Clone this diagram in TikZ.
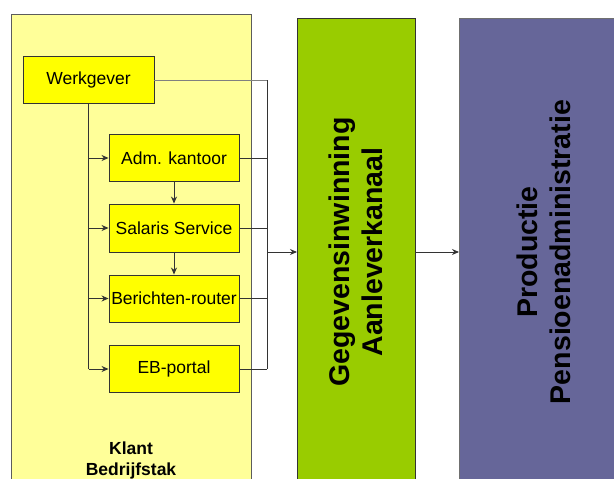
\documentclass[tikz,border=0pt]{standalone}
\usepackage{fontspec}
\setmainfont{Liberation Sans}
\usetikzlibrary{arrows.meta}
\definecolor{bgyellow}{HTML}{FFFF99}
\definecolor{boxyellow}{HTML}{FFFF00}
\definecolor{kgreen}{HTML}{99CC00}
\definecolor{kpurple}{HTML}{666699}
\definecolor{edge}{HTML}{333333}
\tikzset{
  ybox/.style={draw=edge, line width=0.9pt, fill=boxyellow, minimum width=130pt, minimum height=47pt, inner sep=0pt, font=\fontsize{17.5}{20}\selectfont},
  conn/.style={draw=edge, line width=0.9pt},
  arr/.style={conn, -{Stealth[length=7pt,width=6pt]}},
  bigtxt/.style={rotate=90, align=center, font=\bfseries\fontsize{28.5}{33}\selectfont},
}
\begin{document}
\begin{tikzpicture}[x=1pt,y=-1pt]
\useasboundingbox (0,0) rectangle (614,479);
% background panels
\fill[bgyellow] (11,14) rectangle (251,480);
\draw[edge!80, line width=0.9pt] (11,480) -- (11,14) -- (251,14) -- (251,480);
\fill[kgreen] (297,18) rectangle (415,480);
\draw[edge, line width=0.9pt] (297,480) -- (297,18) -- (415,18) -- (415,480);
\fill[kpurple] (459,18) rectangle (615,480);
\draw[edge!70, line width=0.9pt] (459,480) -- (459,18) -- (615,18);
\coordinate (gin) at (297,252);
\coordinate (gout) at (415,252);
\coordinate (pin) at (459,252);
% boxes
\node[ybox, minimum width=131pt] (wg) at (88.5,80) {Werkgever};
\node[ybox] (adm) at (174,158) {Adm. kantoor};
\node[ybox, minimum height=48pt] (sal) at (174,228) {Salaris Service};
\node[ybox] (ber) at (174,298.5) {Berichten-router};
\node[ybox] (eb) at (174,369) {EB-portal};
% labels
\node[font=\bfseries\fontsize{17.5}{21}\selectfont, align=center] (klant) at (131,460) {Klant\\Bedrijfstak};
\node[bigtxt] (gtxt) at (356,252) {Gegevensinwinning\\Aanleverkanaal};
\node[bigtxt] (ptxt) at (543.5,252) {Productie\\Pensioenadministratie};
% right bus
\coordinate (bt) at (267,80);
\coordinate (bb) at (267,369);
\coordinate (bm) at (267,252);
\draw[conn, draw=gray] (wg.east) -- (bt);
\draw[conn] (bt) -- (bb);
\draw[conn] (adm.east) -- (adm.east -| bt);
\draw[conn] (sal.east) -- (sal.east -| bt);
\draw[conn] (ber.east) -- (ber.east -| bt);
\draw[conn] (eb.east) -- (bb);
\draw[arr] (bm) -- (gin);
\draw[arr] (gout) -- (pin);
% left bus
\coordinate (lb) at (wg.south |- eb.west);
\draw[conn] (wg.south) -- (lb);
\draw[arr] (wg.south |- adm.west) -- (adm.west);
\draw[arr] (wg.south |- sal.west) -- (sal.west);
\draw[arr] (wg.south |- ber.west) -- (ber.west);
\draw[arr] (lb) -- (eb.west);
% vertical arrows
\draw[arr] (adm.south) -- (sal.north);
\draw[arr] (sal.south) -- (ber.north);
\end{tikzpicture}
\end{document}
